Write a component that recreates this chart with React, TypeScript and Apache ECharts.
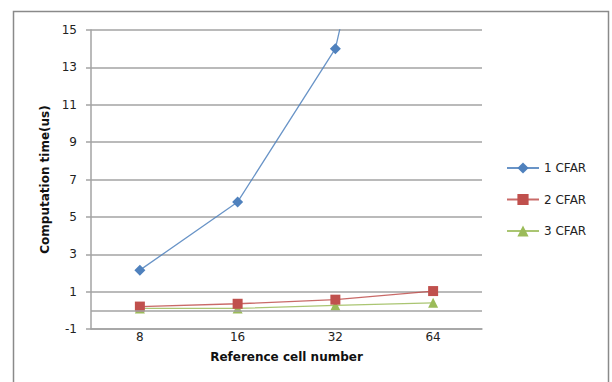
import React, { useEffect, useRef } from "react";
import * as echarts from "echarts";

const categories = ["8", "16", "32", "64"];
const seriesNames = ["1 CFAR", "2 CFAR", "3 CFAR"];
const cfar1 = [2.15, 5.8, 14.0, 37];
const cfar2 = [0.2, 0.35, 0.57, 1.03];
const cfar3 = [0.1, 0.1, 0.26, 0.4];
const yMin = -1;
const yMax = 15;
const yInterval = 2;

const FONT = "DejaVu Sans";
const GRID_COLOR = "#a3a3a3";

export default function App() {
  const ref = useRef<HTMLDivElement>(null);
  useEffect(() => {
    if (!ref.current) return;
    const chart = echarts.init(ref.current, null, { renderer: "svg" });
    const mk = (name: string, data: number[], color: string, symbol: string, size: number, extra: any = {}) => ({
      name,
      type: "line",
      data,
      symbol,
      symbolSize: size,
      clip: true,
      lineStyle: { color, width: 1.3, opacity: 0.85 },
      itemStyle: { color },
      ...extra,
    });
    chart.setOption({
      animation: false,
      backgroundColor: "#ffffff",
      textStyle: { fontFamily: FONT },
      graphic: [
        {
          type: "rect",
          shape: { x: 13.5, y: 11.5, width: 595, height: 400 },
          style: { fill: "none", stroke: "#8a8a8a", lineWidth: 1.5 },
          silent: true,
        },
      ],
      grid: { left: 91, right: 130, top: 30, bottom: 53, containLabel: false },
      legend: {
        orient: "vertical",
        left: 506,
        top: 162,
        padding: 0,
        itemWidth: 32,
        itemHeight: 14,
        itemGap: 19.5,
        textStyle: { fontFamily: FONT, fontSize: 12, color: "#222" },
        data: seriesNames,
      },
      xAxis: {
        type: "category",
        data: categories,
        boundaryGap: true,
        axisLine: { show: true, onZero: false, lineStyle: { color: GRID_COLOR, width: 1.5 } },
        axisTick: { show: false },
        axisLabel: { color: "#222", fontSize: 12, fontFamily: FONT, margin: 2 },
        name: "Reference cell number",
        nameLocation: "middle",
        nameGap: 22,
        nameTextStyle: { fontFamily: FONT, fontSize: 12, fontWeight: "bold", color: "#111" },
        splitLine: { show: false },
      },
      yAxis: {
        type: "value",
        min: yMin,
        max: yMax,
        interval: yInterval,
        axisLine: { show: true, lineStyle: { color: GRID_COLOR, width: 1.5 } },
        axisTick: { show: true, length: 5, lineStyle: { color: GRID_COLOR, width: 1.5 } },
        axisLabel: { color: "#222", fontSize: 12, fontFamily: FONT, margin: 14 },
        splitLine: { show: true, lineStyle: { color: GRID_COLOR, width: 1.5 } },
        name: "Computation time(us)",
        nameLocation: "middle",
        nameGap: 38,
        nameRotate: 90,
        nameTextStyle: { fontFamily: FONT, fontSize: 12, fontWeight: "bold", color: "#111" },
      },
      series: [
        mk(seriesNames[0], cfar1, "#4F81BD", "diamond", 11),
        mk(seriesNames[1], cfar2, "#C0504D", "rect", 10),
        mk(seriesNames[2], cfar3, "#9BBB59", "triangle", 10, {
          markLine: {
            silent: true,
            symbol: "none",
            label: { show: false },
            lineStyle: { color: GRID_COLOR, width: 1.5, type: "solid", opacity: 1 },
            data: [{ yAxis: 0 }],
          },
          z: 1,
        }),
      ],
    });
    return () => chart.dispose();
  }, []);
  return (
    <div
      ref={ref}
      style={{ position: "fixed", left: 0, top: 0, width: 612, height: 382, background: "#fff" }}
    />
  );
}
